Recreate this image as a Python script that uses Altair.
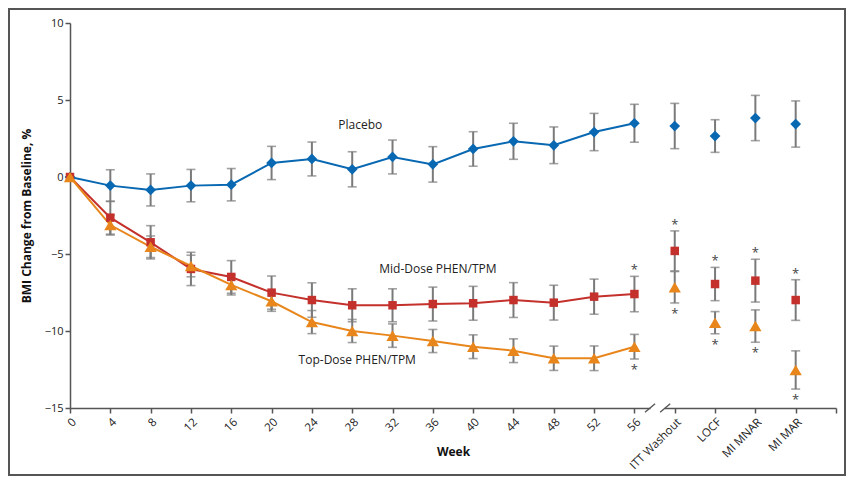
import json
import altair as alt
import pandas as pd

# ---------------- data ----------------
categories = ["0", "4", "8", "12", "16", "20", "24", "28", "32", "36", "40",
              "44", "48", "52", "56", "ITT Washout", "LOCF", "MI MNAR", "MI MAR"]
n_weekly = 15  # first 15 categories are the weekly, connected visits

placebo = [0, -0.56, -0.84, -0.56, -0.50, 0.91, 1.17, 0.50, 1.30, 0.82, 1.82,
           2.32, 2.06, 2.92, 3.49, 3.31, 2.66, 3.83, 3.44]
placebo_err = [0, 1.03, 1.04, 1.05, 1.05, 1.08, 1.10, 1.14, 1.10, 1.15, 1.12,
               1.17, 1.19, 1.21, 1.23, 1.47, 1.06, 1.47, 1.50]

mid = [0, -2.64, -4.24, -5.97, -6.49, -7.51, -7.99, -8.33, -8.33, -8.25, -8.20,
       -7.99, -8.16, -7.77, -7.60, -4.80, -6.95, -6.73, -7.99]
mid_err = [0, 1.07, 1.08, 1.08, 1.06, 1.08, 1.12, 1.07, 1.07, 1.10, 1.10,
           1.13, 1.13, 1.14, 1.15, 1.30, 1.08, 1.39, 1.32]

top = [0, -3.12, -4.53, -5.78, -7.01, -8.07, -9.42, -10.00, -10.30, -10.65, -11.02,
       -11.28, -11.77, -11.77, -11.02, -7.16, -9.46, -9.68, -12.53]
top_err = [0, 0.65, 0.70, 0.70, 0.65, 0.65, 0.75, 0.75, 0.76, 0.75, 0.77,
           0.77, 0.79, 0.80, 0.80, 1.02, 0.72, 1.05, 1.24]

significant = [False] * 14 + [True] * 5  # asterisks (active arms only)

series_names = ["Placebo", "Mid-Dose PHEN/TPM", "Top-Dose PHEN/TPM"]
series_colors = ["#0868b2", "#c4302b", "#e8861c"]
series_shapes = ["diamond", "square", "triangle-up"]
series_sizes = [115, 72, 150]

annot_text = ["Placebo", "Mid-Dose PHEN/TPM", "Top-Dose PHEN/TPM"]
annot_x = [28.8, 36.5, 28.5]
annot_y = [3.4, -5.95, -11.9]

# ---------------- tables ----------------
rows = []
for name, vals, errs in zip(series_names, [placebo, mid, top],
                            [placebo_err, mid_err, top_err]):
    for i, (c, v, e) in enumerate(zip(categories, vals, errs)):
        rows.append(dict(series=name, pos=i * 4, cat=c, value=v, err=e,
                         lower=v - e, upper=v + e, weekly=i < n_weekly,
                         sig=(significant[i] and name != "Placebo")))
df = pd.DataFrame(rows)
ann = pd.DataFrame(dict(text=annot_text, x=annot_x, y=annot_y))

FONT = "Open Sans"
AX = "#555555"
ticks = [i * 4 for i in range(len(categories) + 1)]
x_max = ticks[-1]
label_expr = json.dumps(categories) + "[datum.value / 4] || ''"

xs = alt.Scale(domain=[0, x_max], nice=False, zero=False)
ys = alt.Scale(domain=[-15, 10], nice=False, zero=False)
color = alt.Color("series:N", scale=alt.Scale(domain=series_names, range=series_colors), legend=None)

x_axis = alt.Axis(values=ticks, labelExpr=label_expr, labelAngle=-45, title="Week",
                  titleFontWeight="bold", titleFontSize=12, titleY=38, titleBaseline="top",
                  labelFontSize=11.5, labelPadding=3, tickSize=5, grid=False,
                  labelOverlap=False, labelBound=False, labelFlush=False)
y_axis = alt.Axis(values=[-15, -10, -5, 0, 5, 10], title="BMI Change from Baseline, %",
                  titleFontWeight="bold", titleFontSize=12, titlePadding=11,
                  labelFontSize=11, labelPadding=2, tickSize=5, grid=False,
                  labelOverlap=False, labelFlush=False)

base = alt.Chart(df)
X = alt.X("pos:Q", scale=xs, axis=x_axis)
Y = alt.Y("value:Q", scale=ys, axis=y_axis)

bars = base.transform_filter("datum.err > 0").mark_rule(color="#7a7a7a", strokeWidth=2).encode(
    x=alt.X("pos:Q", scale=xs), y=alt.Y("lower:Q", scale=ys), y2="upper:Q")
cap_lo = base.transform_filter("datum.err > 0").mark_tick(
    orient="horizontal", color="#7a7a7a", size=9, thickness=1.6).encode(
    x=alt.X("pos:Q", scale=xs), y=alt.Y("lower:Q", scale=ys))
cap_hi = base.transform_filter("datum.err > 0").mark_tick(
    orient="horizontal", color="#7a7a7a", size=9, thickness=1.6).encode(
    x=alt.X("pos:Q", scale=xs), y=alt.Y("upper:Q", scale=ys))

lines = base.transform_filter("datum.weekly").mark_line(strokeWidth=2).encode(
    x=X, y=Y, color=color, detail="series:N")

point_layers = []
for name, col, shp, sz in zip(series_names, series_colors, series_shapes, series_sizes):
    point_layers.append(
        base.transform_filter(alt.datum.series == name).mark_point(
            filled=True, opacity=1, shape=shp, size=sz, color=col, strokeWidth=0).encode(
            x=alt.X("pos:Q", scale=xs), y=alt.Y("value:Q", scale=ys)))

star_up = base.transform_filter(
    "datum.sig && datum.series == 'Mid-Dose PHEN/TPM'").mark_text(
    text="*", font=FONT, fontSize=13, color="#444", baseline="middle", dy=-6).encode(
    x=alt.X("pos:Q", scale=xs), y=alt.Y("upper:Q", scale=ys))
star_dn = base.transform_filter(
    "datum.sig && datum.series == 'Top-Dose PHEN/TPM'").mark_text(
    text="*", font=FONT, fontSize=13, color="#444", baseline="middle", dy=11).encode(
    x=alt.X("pos:Q", scale=xs), y=alt.Y("lower:Q", scale=ys))

labels = alt.Chart(ann).mark_text(font=FONT, fontSize=12, color="#222").encode(
    x=alt.X("x:Q", scale=xs), y=alt.Y("y:Q", scale=ys), text="text:N")

# axis break marks between week 56 and ITT washout
brk = pd.DataFrame(dict(c=[57.55, 59.05]))
gap = alt.Chart(pd.DataFrame(dict(a=[57.6], b=[59.0]))).mark_rule(
    color="white", strokeWidth=4).encode(
    x=alt.X("a:Q", scale=xs), x2="b:Q", y=alt.datum(-15, scale=ys))
slashes = alt.Chart(brk).transform_calculate(
    x1="datum.c - 0.5", x2="datum.c + 0.5").mark_rule(color=AX, strokeWidth=1.3).encode(
    x=alt.X("x1:Q", scale=xs), x2="x2:Q",
    y=alt.datum(-15.28, scale=ys), y2=alt.datum(-14.72))

frame = alt.Chart(pd.DataFrame(dict(k=[0]))).mark_rect(
    fill="transparent", stroke="#555", strokeWidth=2).encode(
    x=alt.value(-61), x2=alt.value(775), y=alt.value(-14), y2=alt.value(452))

chart = alt.layer(bars, cap_lo, cap_hi, lines, *point_layers, star_up, star_dn, labels,
                  gap, slashes, frame).properties(
    width=766, height=385,
    autosize=alt.AutoSizeParams(type="none"),
    padding={"left": 62, "top": 15, "right": 10, "bottom": 68},
    background="white",
).configure_view(stroke=None).configure_axis(
    labelFont=FONT, titleFont=FONT, labelColor="#222", titleColor="#111",
    domainColor=AX, tickColor=AX, domainWidth=1.5, tickWidth=1.5,
).configure_text(font=FONT)

chart.save("out.html", embed_options={"renderer": "svg", "actions": False})
